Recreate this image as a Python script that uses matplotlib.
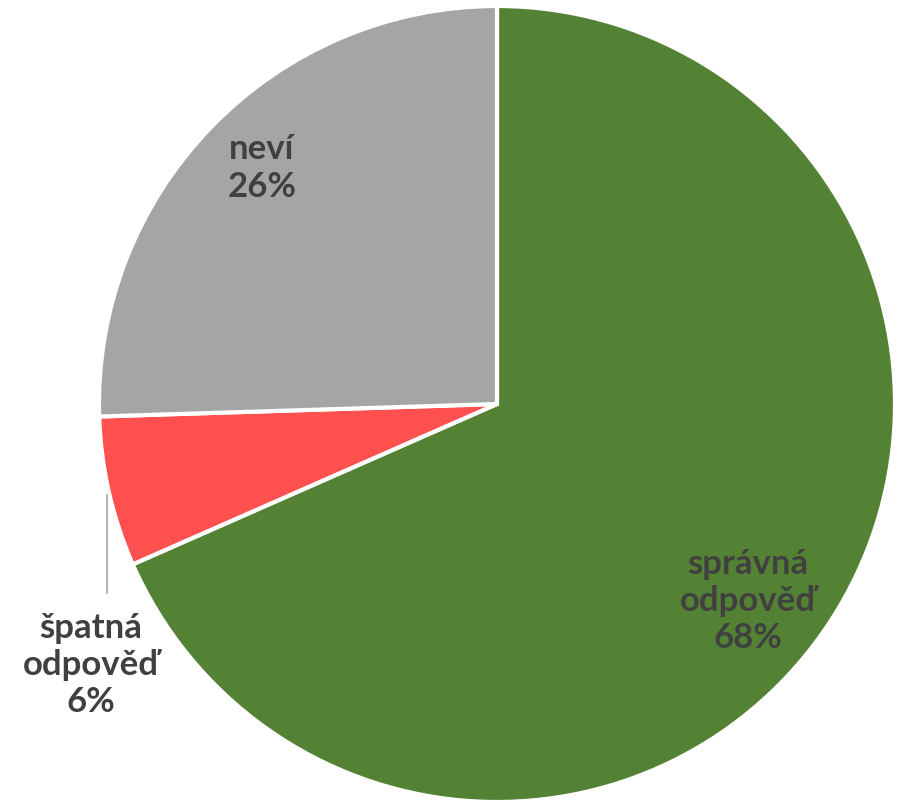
import matplotlib
matplotlib.use("Agg")
import matplotlib.pyplot as plt

labels = ["správná\nodpověď", "špatná\nodpověď", "neví"]
values = [68.4, 6.1, 25.5]
pct_labels = ["68%", "6%", "26%"]
colors = ["#548235", "#FF5050", "#A5A5A5"]

W, H = 908, 800
fig = plt.figure(figsize=(W / 100, H / 100), dpi=100)
ax = fig.add_axes([0, 0, 1, 1])

cx, cy, r = 497, H - 404, 398
ax.pie(values, colors=colors, startangle=90, counterclock=False,
       center=(cx, cy), radius=r, frame=True,
       wedgeprops=dict(edgecolor="white", linewidth=3))
ax.set_xlim(0, W)
ax.set_ylim(0, H)
ax.axis("off")

text_kw = dict(ha="center", va="center", fontsize=25, fontweight="bold",
               color="#404040", family=["Lato", "DejaVu Sans"], linespacing=1.2)
ax.text(748, H - 601, f"{labels[0]}\n{pct_labels[0]}", **text_kw)
ax.text(91, H - 665, f"{labels[1]}\n{pct_labels[1]}", **text_kw)
ax.text(262, H - 168, f"{labels[2]}\n{pct_labels[2]}", **text_kw)

# leader line for the small slice
ax.plot([107, 107], [H - 495, H - 593], color="#A6A6A6", linewidth=1.2)

fig.savefig("out.png", dpi=100)
